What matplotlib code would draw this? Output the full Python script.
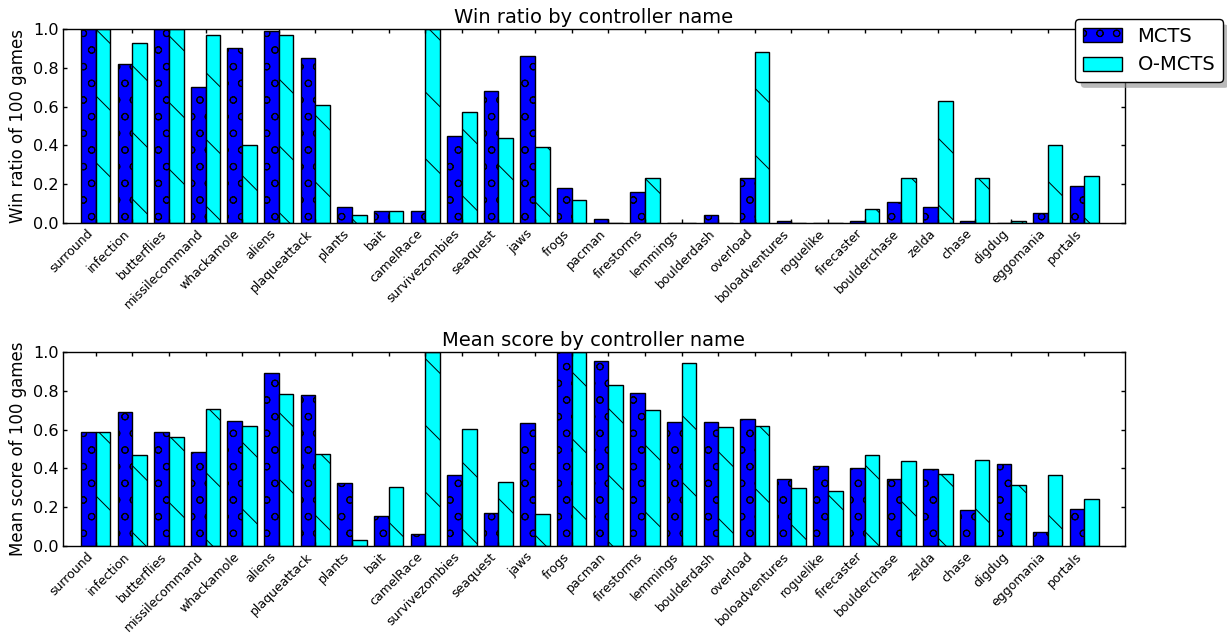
import numpy as np
import matplotlib
matplotlib.use("Agg")
import matplotlib.pyplot as plt

games = ["surround", "infection", "butterflies", "missilecommand", "whackamole",
         "aliens", "plaqueattack", "plants", "bait", "camelRace", "survivezombies",
         "seaquest", "jaws", "frogs", "pacman", "firestorms", "lemmings",
         "boulderdash", "overload", "boloadventures", "roguelike", "firecaster",
         "boulderchase", "zelda", "chase", "digdug", "eggomania", "portals"]

win_mcts = [1.00, 0.82, 1.00, 0.70, 0.90, 0.99, 0.85, 0.08, 0.06, 0.06, 0.45,
            0.68, 0.86, 0.18, 0.02, 0.16, 0.00, 0.04, 0.23, 0.01, 0.00, 0.01,
            0.11, 0.08, 0.01, 0.00, 0.05, 0.19]
win_omcts = [1.00, 0.93, 1.00, 0.97, 0.40, 0.97, 0.61, 0.04, 0.06, 1.00, 0.57,
             0.44, 0.39, 0.12, 0.00, 0.23, 0.00, 0.00, 0.88, 0.00, 0.00, 0.07,
             0.23, 0.63, 0.23, 0.01, 0.40, 0.24]

score_mcts = [0.586, 0.691, 0.586, 0.483, 0.643, 0.891, 0.778, 0.324, 0.155,
              0.060, 0.364, 0.172, 0.636, 1.000, 0.952, 0.790, 0.640, 0.640,
              0.653, 0.343, 0.410, 0.400, 0.343, 0.395, 0.186, 0.422, 0.072, 0.191]
score_omcts = [0.586, 0.471, 0.562, 0.707, 0.616, 0.786, 0.476, 0.031, 0.303,
               1.000, 0.602, 0.329, 0.167, 1.000, 0.828, 0.702, 0.945, 0.614,
               0.619, 0.298, 0.286, 0.471, 0.438, 0.371, 0.443, 0.312, 0.364, 0.241]

plt.rcParams['hatch.linewidth'] = 0.35
plt.rcParams['axes.linewidth'] = 0.5
plt.rcParams['font.family'] = 'DejaVu Sans'

W, H, DPI = 1227, 635, 200
fig = plt.figure(figsize=(W / DPI, H / DPI), dpi=DPI)

ind = np.arange(len(games))
width = 0.4


def draw(ax, mcts, omcts, title, ylabel):
    ax.bar(ind, mcts, width, align='edge', color='blue', edgecolor='black',
           linewidth=0.5, hatch='oo', label='MCTS')
    ax.bar(ind + width, omcts, width, align='edge', color='cyan', edgecolor='black',
           linewidth=0.5, hatch='\\', label='O-MCTS')
    ax.set_xlim(-0.5, len(games) + 0.5)
    ax.set_ylim(0, 1.0)
    ax.set_yticks(np.arange(0, 1.01, 0.2))
    ax.set_xticks(ind + width)
    ax.set_xticklabels(games, rotation=45, ha='right', fontsize=4.5)
    ax.tick_params(axis='y', labelsize=5.8)
    ax.tick_params(direction='in', top=True, right=True, length=1.6, width=0.5, pad=1.5)
    ax.set_title(title, fontsize=7, pad=2)
    ax.set_ylabel(ylabel, fontsize=6, labelpad=2)


ax1 = fig.add_axes([62.7 / W, 1 - 223 / H, (1124.7 - 62.7) / W, 194 / H])
ax2 = fig.add_axes([62.7 / W, 1 - 546 / H, (1124.7 - 62.7) / W, 194 / H])

draw(ax1, win_mcts, win_omcts, "Win ratio by controller name", "Win ratio of 100 games")
draw(ax2, score_mcts, score_omcts, "Mean score by controller name", "Mean score of 100 games")

leg = ax1.legend(loc='upper right', bbox_to_anchor=(1223 / W, 1 - 19 / H),
                 bbox_transform=fig.transFigure, borderaxespad=0, fontsize=7,
                 shadow={'facecolor': '0.55', 'edgecolor': 'none', 'alpha': 0.6},
                 fancybox=True, framealpha=1, edgecolor='black')
leg.get_frame().set_linewidth(0.5)

fig.savefig("out.png", dpi=DPI)
